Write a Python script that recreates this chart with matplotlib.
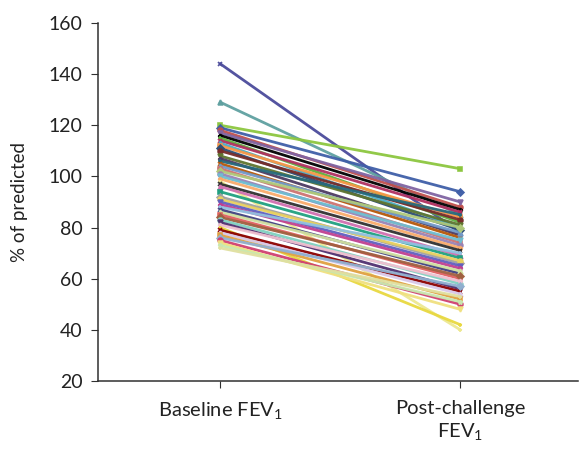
import matplotlib
matplotlib.use("Agg")
import matplotlib.pyplot as plt

plt.rcParams["mathtext.fontset"] = "custom"
plt.rcParams["mathtext.rm"] = "Lato"
plt.rcParams["mathtext.it"] = "Lato:italic"

categories = ["Baseline FEV$_1$", "Post-challenge\nFEV$_1$"]

baseline = [144, 129, 120, 119, 118, 117, 116, 115, 114, 113, 112, 111, 110, 108,
            107, 106, 105, 104, 103, 102, 101, 100, 99, 98, 97, 96, 94, 92, 91, 90,
            89, 88, 87, 86, 85, 84, 83, 82, 81, 80, 79, 78, 77, 76, 75, 74, 73, 72]
post = [78, 85, 103, 94, 88, 90, 87, 82, 86, 80, 84, 79, 83, 81,
        77, 85, 76, 78, 74, 80, 73, 75, 72, 40, 71, 69, 68, 66, 67, 65,
        64, 70, 62, 63, 60, 61, 58, 56, 59, 42, 55, 54, 52, 57, 50, 48, 51, 53]

yticks = [20, 40, 60, 80, 100, 120, 140, 160]

colors = ["#4B4B9B", "#5FA0A0", "#8CC63F", "#3F5FA8", "#C0504D", "#8064A2",
          "#000000", "#5FAF3F", "#B03060", "#4BACC6", "#F79646", "#2C4D75",
          "#772C2A", "#5F7530", "#4D3B62", "#276A7C", "#B65708", "#729ACA",
          "#CD7371", "#AFC97A", "#9983B5", "#6FBDD1", "#F9AB6B", "#EDE890",
          "#303030", "#D070B0", "#20A080", "#A0A0A0", "#E8D060", "#6060C0",
          "#C04090", "#90C0E0", "#404080", "#D0E0A0", "#E06060", "#A06040",
          "#80D0C0", "#503070", "#F0C0D0", "#E8D840", "#8B0000", "#D8C8E8",
          "#E0A040", "#90B0D0", "#D04070", "#F0E080", "#C8E8B0", "#E0E0A0"]
markers = ["x", "^", "s", "D", "o", "v", "*", "+"]

fig = plt.figure(figsize=(5.81, 4.5), dpi=100)
ax = fig.add_axes([98/581, 69/450, 480/581, 358/450])

for i, (b, p) in enumerate(zip(baseline, post)):
    ax.plot([1, 2], [b, p], color=colors[i % len(colors)], lw=2.0,
            marker=markers[i % len(markers)], ms=3.5, mew=1.2, alpha=0.95)

ax.set_xlim(0.49, 2.49)
ax.set_ylim(20, 160)
ax.set_yticks(yticks)
ax.set_xticks([1, 2])
ax.set_xticklabels(categories)
for s in ["top", "right"]:
    ax.spines[s].set_visible(False)
for s in ["left", "bottom"]:
    ax.spines[s].set_color("#303030")
    ax.spines[s].set_linewidth(1.1)
ax.tick_params(axis="both", direction="out", length=5, color="#303030",
               labelsize=14, labelcolor="#222222")
ax.tick_params(axis="y", pad=6)
ax.tick_params(axis="x", pad=9, labelsize=14.5)
for lab in ax.get_xticklabels() + ax.get_yticklabels():
    lab.set_family("Lato")
ax.set_ylabel("% of predicted", fontsize=13.5, family="Lato", color="#222222", labelpad=15)

fig.savefig("out.png", dpi=100)
